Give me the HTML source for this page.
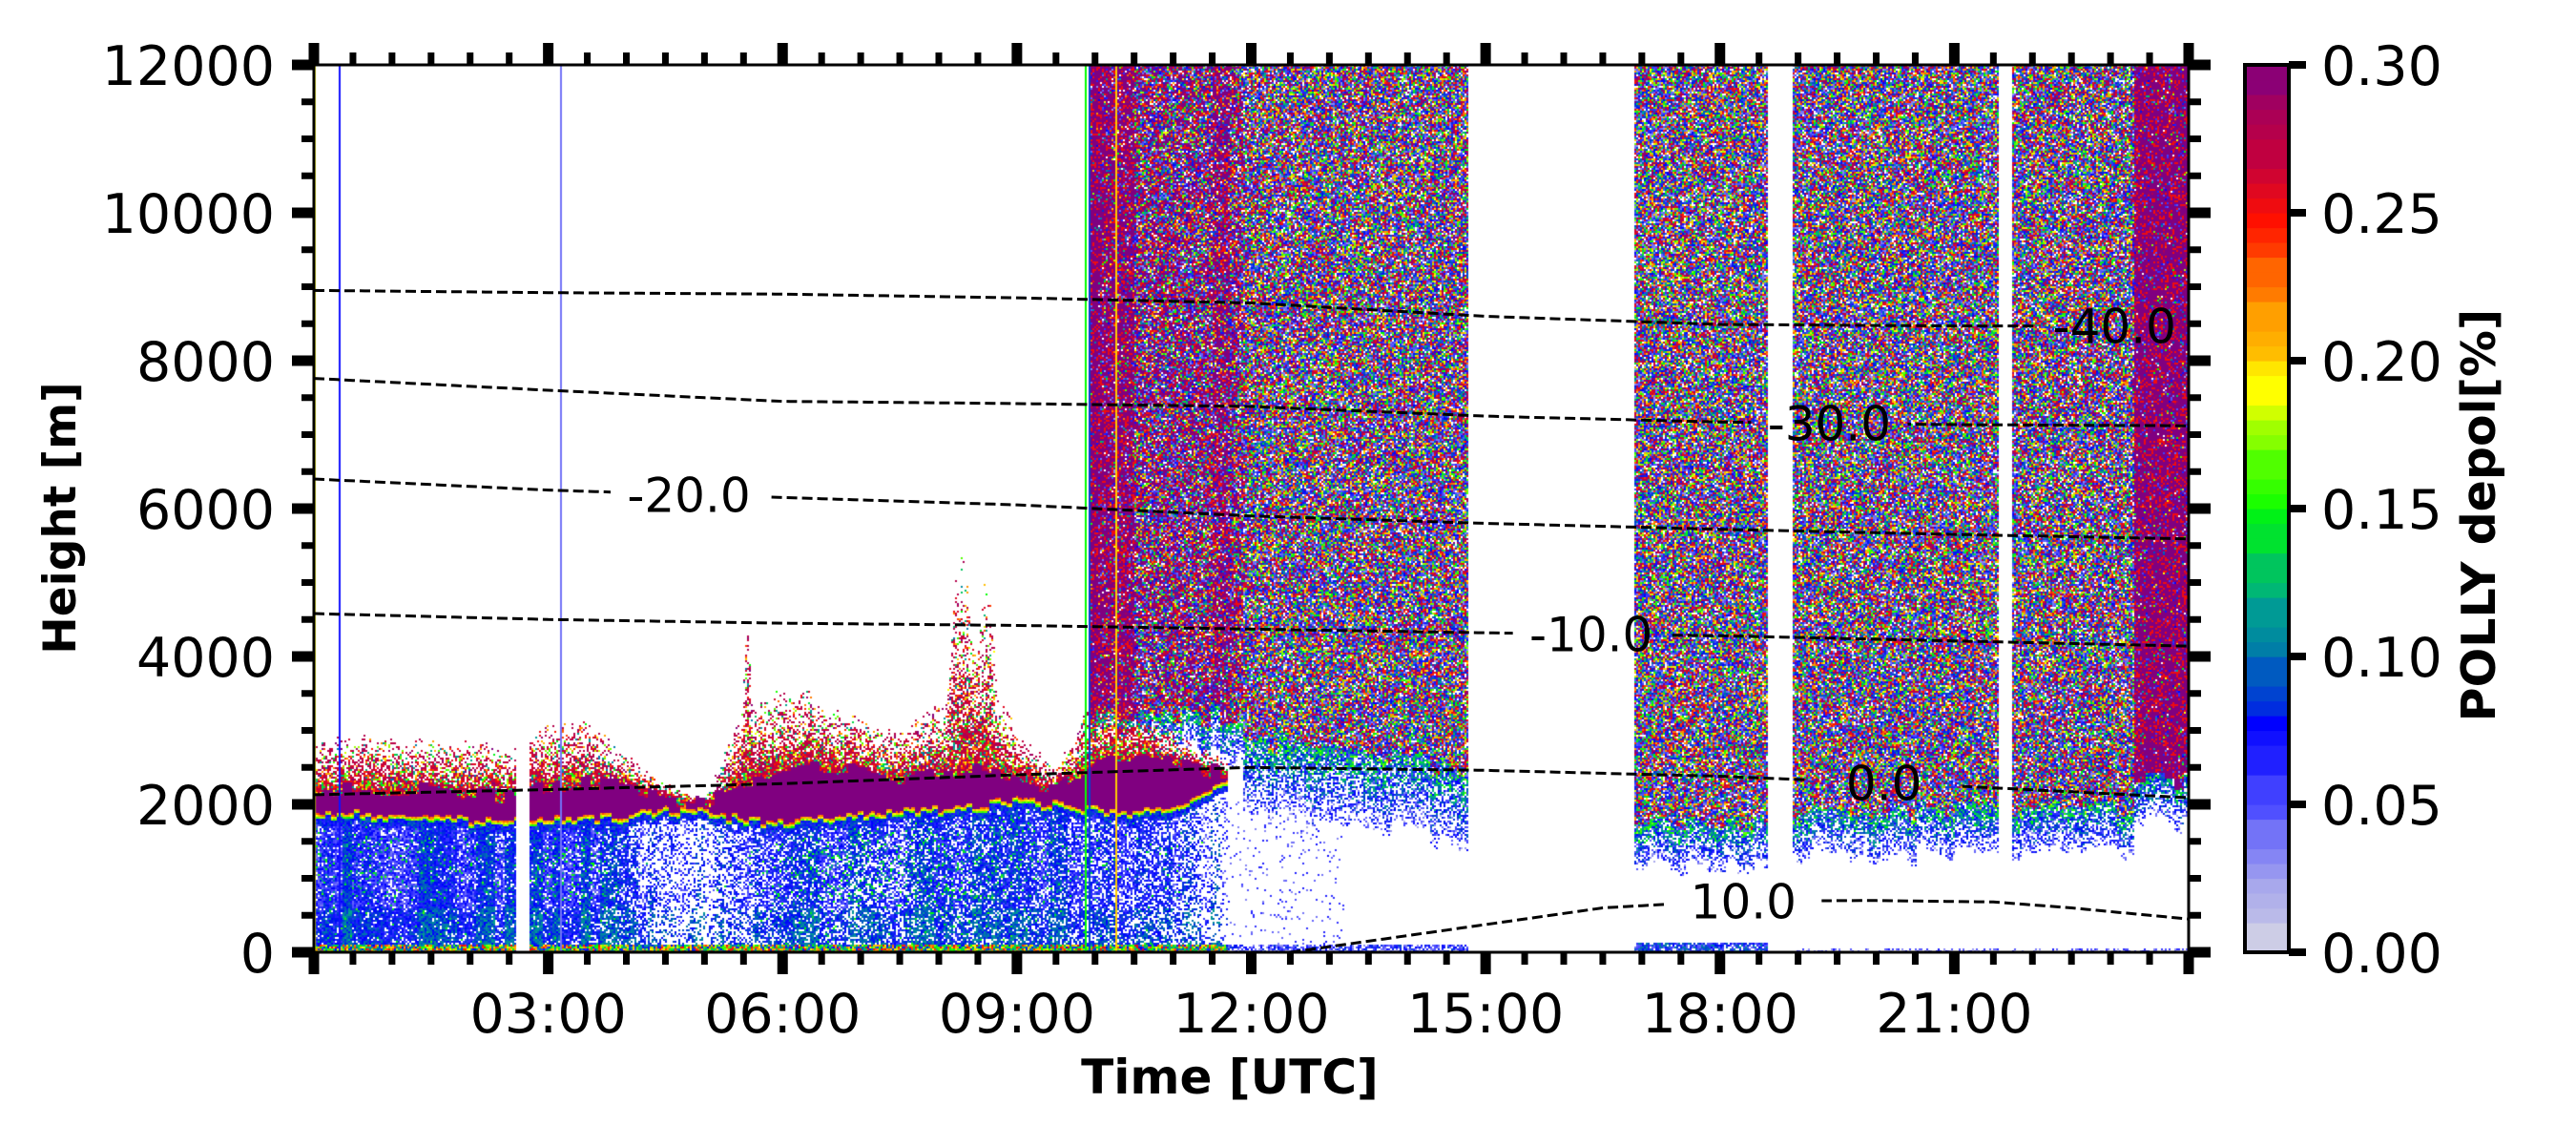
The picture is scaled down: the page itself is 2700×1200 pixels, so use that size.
<!DOCTYPE html>
<html><head><meta charset="utf-8">
<style>
html,body{margin:0;padding:0;background:#fff;}
#wrap{position:relative;width:2700px;height:1200px;overflow:hidden;background:#fff;}
#heat{position:absolute;left:329px;top:68px;}
#ov{position:absolute;left:0;top:0;}
text{font-family:"DejaVu Sans","Liberation Sans",sans-serif;}
</style></head>
<body>
<div id="wrap">
<canvas id="heat" width="1965" height="930"></canvas>
<svg id="ov" width="2700" height="1200"></svg>
</div>
<script>
// ---- data ----
const profHours = [0,0.5,1,1.5,2,2.5,3,3.5,4,4.5,5,5.5,6,6.5,7,7.5,8,8.5,9,9.5,10,10.5,11,11.5,12];
const cloudBase = [1900,1880,1850,1820,1800,1780,1800,1800,1850,1950,1900,1800,1780,1800,1850,1900,1950,2000,2050,2000,1950,1900,2000,2200,2400];
const purpleTop = [2200,2200,2200,2200,2150,2100,2250,2300,2250,2100,2000,2300,2450,2500,2450,2350,2400,2450,2300,2200,2600,2650,2600,2450,2400];
const speckleTop = [2900,3000,2900,2900,2900,2800,3100,3200,2700,2300,2100,3300,3600,3400,3200,3000,3400,4200,3000,2500,3500,3400,3000,2700,2500];
const aerDensity = [1,1,1,0.98,0.95,0.9,0.98,0.95,0.75,0.35,0.3,0.6,0.8,0.8,0.75,0.75,0.85,0.8,0.85,0.8,0.75,0.7,0.65,0.3,0];
const aerGreen = [0.3,0.3,0.25,0.2,0.15,0.1,0.35,0.3,0.1,0,0,0.1,0.3,0.45,0.5,0.45,0.4,0.3,0.3,0.2,0.15,0.1,0.1,0,0];
const spikeT = [5.55,8.3,8.6,6.3];
const spikeW = [0.08,0.25,0.2,0.15];
const spikeTop = [4500,5400,5000,3900];
const gapStart = [2.58,14.78,18.62,21.56];
const gapEnd = [2.75,16.9,18.94,21.75];
const noiseStart = [9.95,10.5,11.9,16.9,18.94,21.75,23.3];
const noiseEnd = [10.5,11.9,14.78,18.62,21.56,23.3,24];
const noiseBottom = [2600,2600,2300,1150,1300,1300,1700];
const noisePurple = [0.75,0.35,0.05,0.02,0.02,0.04,0.85];
const lineHours = [0.02,0.33,3.16,9.88,9.93,10.28];
const lineVals = [0.19,0.07,0.04,0.15,0.09,0.2];
// temperature contours
const tHours = [0,3,6,9,12,15,18,21,24];
const tM40 = [8950,8920,8900,8850,8780,8600,8490,8470,8470];
const tM30 = [7760,7600,7450,7420,7380,7250,7170,7135,7120];
const tM20 = [6400,6250,6150,6050,5900,5800,5720,5650,5590];
const tM10 = [4580,4500,4450,4420,4370,4320,4280,4210,4140];
const t0 = [2130,2200,2280,2400,2500,2460,2380,2250,2090];
const t10Hours = [12.5,13.5,14.5,15.5,16.5,18,20,21.5,22.5,24];
const t10 = [0,150,300,450,600,690,700,680,600,450];
const contourLabels = ["-40.0","-30.0","-20.0","-10.0","0.0","10.0"];
const labelHours = [23.05,19.4,4.8,16.35,20.1,18.3];
const xTickLabels = ["03:00","06:00","09:00","12:00","15:00","18:00","21:00"];
const xTickHours = [3,6,9,12,15,18,21];
const yTicks = [0,2000,4000,6000,8000,10000,12000];
const cbTicks = [0,0.05,0.1,0.15,0.2,0.25,0.3];
const cbTickLabels = ["0.00","0.05","0.10","0.15","0.20","0.25","0.30"];
const cmapPos = [0,0.025,0.05,0.075,0.1,0.12,0.15,0.18,0.19,0.2,0.22,0.25,0.27,0.3];
const cmapCol = [[214,214,228],[168,168,236],[80,80,255],[0,0,255],[0,112,176],[0,168,140],[0,255,0],[160,255,0],[255,255,0],[255,204,0],[255,144,0],[255,16,0],[192,0,64],[128,0,128]];

// ---- axes ----
const X0=329,X1=2294,Y0=68,Y1=998;
const xs = h => X0 + (X1-X0)*h/24;
const ys = m => Y1 - (Y1-Y0)*m/12000;
function interp(xa,ya,x){
  if(x<=xa[0]) return ya[0];
  for(let i=1;i<xa.length;i++){ if(x<=xa[i]){const f=(x-xa[i-1])/(xa[i]-xa[i-1]);return ya[i-1]+f*(ya[i]-ya[i-1]);} }
  return ya[ya.length-1];
}
function cmap(v){
  v=Math.max(0,Math.min(0.3,v));
  v=Math.round(v/0.005)*0.005;
  for(let i=1;i<cmapPos.length;i++){ if(v<=cmapPos[i]+1e-9){const f=(v-cmapPos[i-1])/(cmapPos[i]-cmapPos[i-1]);const a=cmapCol[i-1],b=cmapCol[i];return [a[0]+f*(b[0]-a[0]),a[1]+f*(b[1]-a[1]),a[2]+f*(b[2]-a[2])];} }
  return cmapCol[cmapCol.length-1];
}
function hash(i,j,k){let n=(i*374761393+j*668265263+k*2147483647)|0;n=Math.imul(n^(n>>>13),1274126177);n^=n>>>16;return (n>>>0)/4294967296;}
function noiseVal(r){
  if(r<0.07) return null;
  if(r<0.45) return 0.03+0.07*((r-0.07)/0.38);
  if(r<0.66) return 0.25+0.05*((r-0.45)/0.21);
  return 0.1+0.15*((r-0.66)/0.34);
}

// ---- heatmap ----
(function(){
  const cv=document.getElementById('heat');const ctx=cv.getContext('2d');
  const W=cv.width,H=cv.height;const img=ctx.createImageData(W,H);const d=img.data;
  const cw=2,ch=2;const nc=Math.ceil(W/cw),nr=Math.ceil(H/ch);
  for(let i=0;i<nc;i++){
    const t=(i*cw+1)*24/W;
    let gap=false;for(let g=0;g<gapStart.length;g++) if(t>=gapStart[g]&&t<gapEnd[g]) gap=true;
    if(gap) continue;
    const colR=hash(Math.floor(i/5),7,3), colR2=hash(Math.floor(i/3),9,4);
    let lineV=null;for(let l=0;l<lineHours.length;l++) if(Math.abs(t-lineHours[l])<0.015) lineV=lineVals[l];
    const b=interp(profHours,cloudBase,t),pt0=interp(profHours,purpleTop,t);let st=interp(profHours,speckleTop,t);
    for(let s=0;s<spikeT.length;s++){const dd=Math.abs(t-spikeT[s])/spikeW[s];if(dd<1) st=Math.max(st,pt0+(spikeTop[s]-pt0)*(1-dd*dd));}
    const ad=interp(profHours,aerDensity,t), ag=interp(profHours,aerGreen,t);
    let nb=-1;for(let k=0;k<noiseStart.length;k++) if(t>=noiseStart[k]&&t<noiseEnd[k]) nb=k;
    const baseJit=(colR2-0.5)*120;
    for(let j=0;j<nr;j++){
      const m=(H-(j*ch+1))*12000/H;
      const r1=hash(i,j,1),r2=hash(i,j,2),r3=hash(i,j,8);
      let v=null;
      const bb=b+baseJit;
      if(t<11.7){
        if(m<110){ v=0.06+0.2*r2; }
        else if(m<bb-150){
          const dens=ad*(0.85+0.15*colR);
          if(r1<dens){
            v=0.035+0.03*colR+0.04*r2;
            if(m<600) v+=0.015;
            const gz=(m>700&&m<bb-300)?ag:ag*0.3;
            if(r3<gz*0.5) v=0.09+0.07*r2;
          }
        }
        else if(m<bb-60){ v=0.06+0.04*r2; }
        else if(m<bb){ v=0.14+0.08*((m-(bb-60))/60)+0.03*r2; }
        else if(m<pt0+(colR-0.5)*200){ v=0.3; }
        else if(m<st){ const p=1-(m-pt0)/(st-pt0); if(r1<p) v=(r2<0.5?0.26+0.04*r2:0.1+0.2*hash(i,j,6)); }
      } else if(t<14.78){
        if(m<110){ if(r1<0.7) v=0.03+0.06*r2; }
        else if(m<2200 && t<13.2){ if(r1<0.05*(0.5+colR)) v=0.03+0.04*r2; }
      } else {
        if(m<120 && t>=16.9 && t<18.62){ if(r1<0.8) v=0.04+0.07*r2; }
        else if(m<60){ if(r1<0.4) v=0.03+0.04*r2; }
      }
      if(nb>=0){
        let bot=noiseBottom[nb]-(nb==2?(t-11.9)*150:0)+(colR-0.5)*300;
        const fw=nb==2?1000:600;
        bot-= nb==2?400:0;
        if(m>=bot && (v===null || m>st)){
          const fr=(m-bot)/fw;
          if(fr<1){ if(r1<0.3+0.6*fr) v=0.02+0.06*r2+fr*0.12*hash(i,j,5); }
          else { v=(r1<noisePurple[nb]+(colR2>0.8&&nb<2?0.2:0))?(r2<0.8?0.3:0.255):noiseVal(r2); }
        }
      }
      if(lineV!==null) v=lineV;
      if(v===null) continue;
      const c=cmap(v);
      for(let y=j*ch;y<Math.min(H,j*ch+ch);y++) for(let x=i*cw;x<Math.min(W,i*cw+cw);x++){const p=(y*W+x)*4;d[p]=c[0];d[p+1]=c[1];d[p+2]=c[2];d[p+3]=255;}
    }
  }
  ctx.putImageData(img,0,0);
})();

// ---- overlay ----
const svg=document.getElementById('ov');const NS='http://www.w3.org/2000/svg';
function mk(tag,attrs,parent){const e=document.createElementNS(NS,tag);for(const k in attrs) e.setAttribute(k,attrs[k]);(parent||svg).appendChild(e);return e;}

const defs=mk('defs',{});
const mask=mk('mask',{id:'lblmask',maskUnits:'userSpaceOnUse',x:0,y:0,width:2700,height:1200},defs);
mk('rect',{x:0,y:0,width:2700,height:1200,fill:'#fff'},mask);
const series=[[tHours,tM40],[tHours,tM30],[tHours,tM20],[tHours,tM10],[tHours,t0],[t10Hours,t10]];
const cg=mk('g',{mask:'url(#lblmask)'});


const lg=mk('g',{});
series.forEach((s,k)=>{
  let dstr='';const hs=s[0];
  for(let h=hs[0];h<=hs[hs.length-1]+1e-6;h+=0.1){dstr+=(dstr?'L':'M')+xs(h).toFixed(1)+','+ys(interp(hs,s[1],h)).toFixed(1);}
  const p=mk('path',{d:dstr,fill:'none',stroke:'#000','stroke-width':3,'stroke-dasharray':'11,5'},cg);
  
  
  const lx=xs(labelHours[k]),ly=ys(interp(hs,s[1],labelHours[k]));
  mk('rect',{x:lx-82,y:ly-28,width:164,height:56,fill:'#000'},mask);
  const t=mk('text',{x:lx,y:ly+18,'font-size':50,'text-anchor':'middle',fill:'#000'},lg);
  t.textContent=contourLabels[k];
  
  
});

const sp=mk('rect',{x:X0,y:Y0,width:X1-X0,height:Y1-Y0,fill:'none',stroke:'#000','stroke-width':3});


const tg=mk('g',{fill:'#000'});
for(let h=0;h<=24.001;h+=0.5){
  const maj=Math.abs(h/3-Math.round(h/3))<1e-6;const L=maj?23:13,w=maj?11:7;const x=xs(h);
  mk('rect',{x:x-w/2,y:Y1,width:w,height:L},tg);
  mk('rect',{x:x-w/2,y:Y0-L,width:w,height:L},tg);
}
for(let m=0;m<=12000;m+=500){
  const maj=m%2000===0;const L=maj?23:13,w=maj?11:7;const y=ys(m);
  mk('rect',{x:X0-L,y:y-w/2,width:L,height:w},tg);
  mk('rect',{x:X1,y:y-w/2,width:L,height:w},tg);
}
xTickHours.forEach((h,i)=>{const t=mk('text',{x:xs(h),y:1082,'font-size':57,'text-anchor':'middle'});t.textContent=xTickLabels[i];
  });
yTicks.forEach(m=>{const t=mk('text',{x:288,y:ys(m)+21,'font-size':57,'text-anchor':'end'});t.textContent=String(m);
  });
const xt=mk('text',{x:1289,y:1146,'font-size':50,'font-weight':'bold','text-anchor':'middle'});xt.textContent='Time [UTC]';

const yt=mk('text',{x:0,y:0,'font-size':47,'font-weight':'bold','text-anchor':'middle',transform:'translate(79,543) rotate(-90)'});yt.textContent='Height [m]';


const CB0=2353,CB1=2399;
const cbg=mk('g',{});


const nb=60;
for(let k=0;k<nb;k++){const v=0.3*(k+0.5)/nb;const c=cmap(v);const yA=Y1-(Y1-Y0)*(k+1)/nb,yB=Y1-(Y1-Y0)*k/nb;
  mk('rect',{x:CB0,y:yA,width:CB1-CB0,height:yB-yA+0.6,fill:'rgb('+c.map(Math.round).join(',')+')'},cbg);}
mk('rect',{x:CB0,y:Y0,width:CB1-CB0,height:Y1-Y0,fill:'none',stroke:'#000','stroke-width':4},cbg);
cbTicks.forEach((v,i)=>{const y=Y1-(Y1-Y0)*v/0.3;mk('rect',{x:CB1,y:y-4,width:18,height:8,fill:'#000'},cbg);
  const t=mk('text',{x:2433,y:y+21,'font-size':57},cbg);t.textContent=cbTickLabels[i];
  });
const cl=mk('text',{x:0,y:0,'font-size':49,'font-weight':'bold','text-anchor':'middle',transform:'translate(2615,540) rotate(-90)'});cl.textContent='POLLY depol[%]';

</script>
</body></html>
